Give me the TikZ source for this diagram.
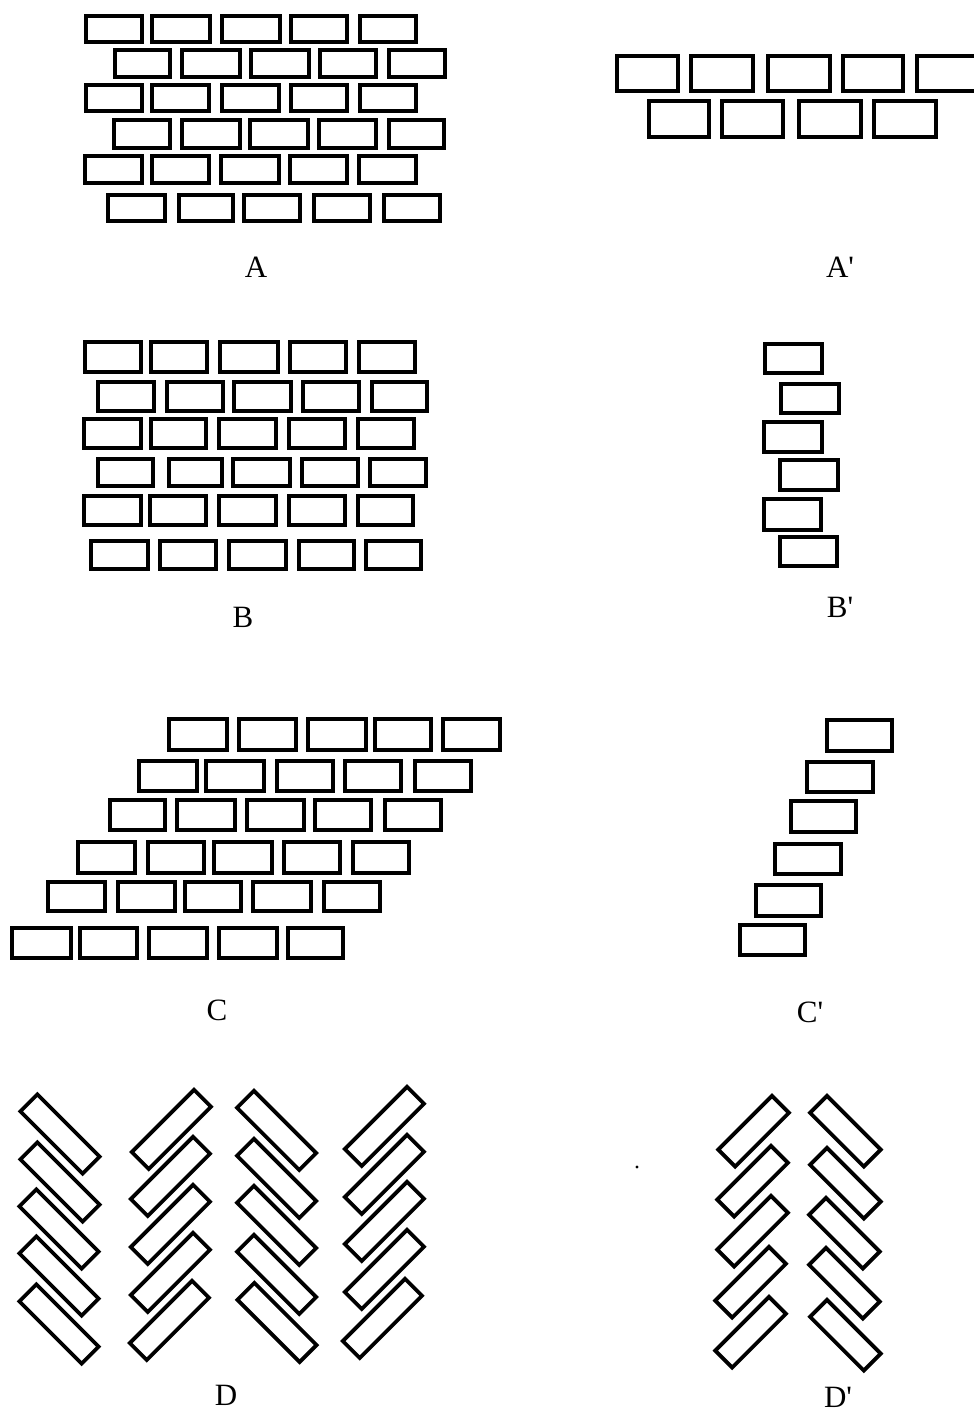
\documentclass[tikz,border=0pt]{standalone}
\usepackage{fontspec}
\setmainfont{Liberation Serif}
\begin{document}
\begin{tikzpicture}[x=1pt,y=-1pt,
  brick/.style={draw=black,line width=4.2pt,line join=miter},
  tbrick/.style={draw=black,line width=3.8pt,line join=miter},
  lab/.style={font=\fontsize{31}{37}\selectfont,inner sep=0pt,anchor=center}]
\useasboundingbox (0,0) rectangle (974,1416);
\clip (0,0) rectangle (974,1416);
\fill[white] (0,0) rectangle (974,1416);
% row helper
\newcommand{\brickrow}[3]{\foreach \a/\b in {#3} {\draw[brick] (\a+2,#1+2) rectangle (\b-2,#2-2);}}
% ---------- A ----------
\brickrow{14}{44}{84/144,150/212,220/282,289/349,358/418}
\brickrow{48}{79}{113/172,180/242,249/311,318/378,387/447}
\brickrow{83}{113}{84/144,150/211,220/281,289/349,358/418}
\brickrow{118}{150}{112/172,180/242,248/310,317/378,387/446}
\brickrow{154}{185}{83/144,150/211,219/281,288/349,357/418}
\brickrow{193}{223}{106/167,177/235,242/302,312/372,382/442}
% ---------- A' ----------
\brickrow{54}{93}{615/680,689/755,766/832,841/905,915/995}
\brickrow{99}{139}{647/711,720/785,797/863,872/938}
% ---------- B ----------
\brickrow{340}{374}{83/143,149/209,218/280,288/348,357/417}
\brickrow{380}{413}{96/156,165/225,232/293,301/361,370/429}
\brickrow{417}{450}{82/143,149/208,217/278,287/347,356/416}
\brickrow{457}{488}{96/155,167/224,231/292,300/360,368/428}
\brickrow{494}{527}{82/143,148/208,217/278,287/347,356/415}
\brickrow{539}{571}{89/150,158/218,227/288,297/356,364/423}
% ---------- B' ----------
\brickrow{342}{375}{763/824}
\brickrow{382}{415}{779/841}
\brickrow{420}{454}{762/824}
\brickrow{458}{492}{778/840}
\brickrow{497}{532}{762/823}
\brickrow{535}{568}{778/839}
% ---------- C ----------
\brickrow{717}{752}{167/229,237/298,306/368,373/433,441/502}
\brickrow{759}{793}{137/199,204/266,275/335,343/403,413/473}
\brickrow{798}{832}{108/167,175/237,245/306,313/373,383/443}
\brickrow{840}{875}{76/137,146/206,212/274,282/342,351/411}
\brickrow{880}{913}{46/107,116/177,183/243,251/313,322/382}
\brickrow{926}{960}{10/73,78/139,147/209,217/279,286/345}
% ---------- C' ----------
\brickrow{718}{753}{825/894}
\brickrow{760}{794}{805/875}
\brickrow{799}{834}{789/858}
\brickrow{842}{876}{773/843}
\brickrow{883}{918}{754/823}
\brickrow{923}{957}{738/807}
% ---------- D ----------
% "\" bricks
\foreach \cx/\cy in {60/1134,60/1182,59/1229,59/1276,59/1324,
                     276.6/1130.4,276.6/1178.4,276.6/1225.4,276.6/1274.4,277/1322.4}
  {\draw[tbrick,shift={(\cx,\cy)},rotate=-45] (-44,-12) rectangle (44,12);}
% "/" bricks
\foreach \cx/\cy in {171.4/1129.4,170.4/1176.4,170.4/1224.4,170.4/1272.4,169.4/1320.4,
                     384.4/1126.4,384.4/1174.4,384.4/1221.4,384.4/1269.4,382.4/1318.4}
  {\draw[tbrick,shift={(\cx,\cy)},rotate=45] (-44,-12) rectangle (44,12);}
% ---------- D' ----------
\foreach \cx/\cy in {753.6/1131.2,752.6/1181.2,752.6/1231.2,750.6/1282.2,750.6/1332.2}
  {\draw[tbrick,shift={(\cx,\cy)},rotate=45] (-38,-12) rectangle (38,12);}
\foreach \cx/\cy in {845.4/1131.2,845.4/1183.2,844.4/1233.2,844.4/1283.2,845.4/1335.2}
  {\draw[tbrick,shift={(\cx,\cy)},rotate=-45] (-38,-12) rectangle (38,12);}
% stray dot
\fill (637,1167) circle (1.6);
% ---------- labels ----------
\node[lab] (lA)  at (256,267)  {A};
\node[lab] (lAp) at (840,267)  {A\textquotesingle};
\node[lab] (lB)  at (243,617)  {B};
\node[lab] (lBp) at (840,607)  {B\textquotesingle};
\node[lab] (lC)  at (217,1010) {C};
\node[lab] (lCp) at (810,1012) {C\textquotesingle};
\node[lab] (lD)  at (226,1395) {D};
\node[lab] (lDp) at (838,1397) {D\textquotesingle};
\end{tikzpicture}
\end{document}
